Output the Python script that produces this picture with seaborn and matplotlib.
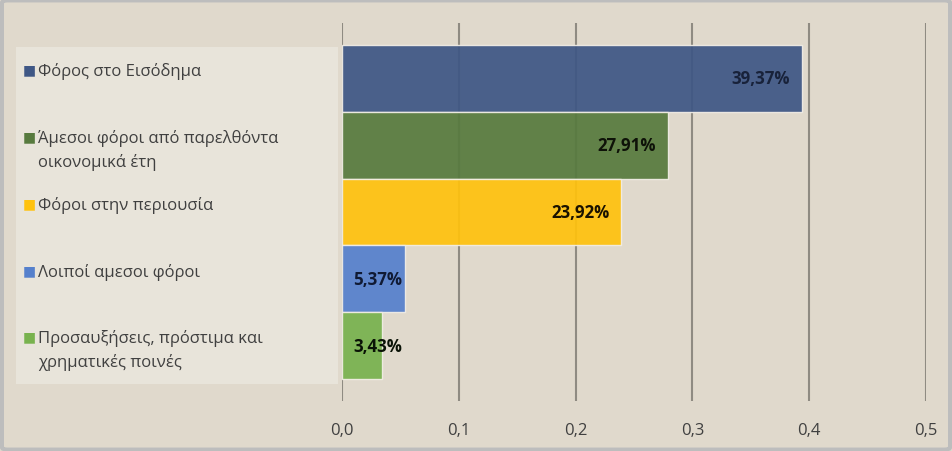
import matplotlib
matplotlib.use("Agg")
import matplotlib.pyplot as plt
import matplotlib.patches as mpatches
import matplotlib.transforms as mtransforms
import seaborn as sns
import pandas as pd

# data
categories = [
    "Φόρος στο Εισόδημα",
    "Άμεσοι φόροι από παρελθόντα\nοικονομικά έτη",
    "Φόροι στην περιουσία",
    "Λοιποί αμεσοι φόροι",
    "Προσαυξήσεις, πρόστιμα και\nχρηματικές ποινές",
]
shares = [0.3937, 0.2791, 0.2392, 0.0537, 0.0343]
xticks = [0.0, 0.1, 0.2, 0.3, 0.4, 0.5]

COLORS = ["#3F5785", "#577A3E", "#FFC20E", "#5580CC", "#78B24E"]
LABEL_COLORS = ["#18223A", "#0E1208", "#1A1200", "#101A33", "#0A1206"]
BG = "#E0D9CC"
LEGEND_BG = "#E8E4DA"
GRID = "#8F8B82"
TEXT = "#404040"

sns.set_theme(style="white")
plt.rcParams["font.family"] = ["Open Sans", "DejaVu Sans"]

df = pd.DataFrame({"cat": categories, "share": shares})

fig = plt.figure(figsize=(9.52, 4.52), dpi=100, facecolor=BG)

# legend box on the left (behind everything)
fig.patches.append(mpatches.Rectangle((16 / 952, 1 - 385 / 452), 322 / 952, 337 / 452,
                                      transform=fig.transFigure, facecolor=LEGEND_BG,
                                      edgecolor="none", zorder=-5))

ax = fig.add_axes([342 / 952, 50 / 452, 584 / 952, 378 / 452])
ax.set_facecolor("none")
ax.set_zorder(2)

# vertical gridlines first, bars on top with slight transparency
for t in xticks:
    ax.axvline(t, color=GRID, linewidth=1.5, zorder=0)

y = list(range(len(shares)))
ax.barh(y, df["share"], height=1.0, color=COLORS, alpha=0.93,
        edgecolor="#F2EEE6", linewidth=1.0, zorder=2)

ax.set_xlim(0, 0.5)
ax.set_ylim(len(shares) - 0.5 + 0.33, -0.5 - 0.33)
ax.set_yticks([])
ax.set_xticks(xticks)
ax.set_xticklabels([f"{t:.1f}".replace(".", ",") for t in xticks],
                   fontsize=12, color=TEXT)
ax.tick_params(axis="x", length=0, pad=15)
for s in ax.spines.values():
    s.set_visible(False)

# value labels: inside end, or from bar start when bar is too short
for i, v in enumerate(shares):
    txt = f"{v * 100:.2f}%".replace(".", ",")
    if v > 0.1:
        ax.annotate(txt, (v, i), xytext=(-8.6, 0), textcoords="offset points",
                    ha="right", va="center", fontsize=12.2, fontweight="bold",
                    color=LABEL_COLORS[i], zorder=3)
    else:
        ax.annotate(txt, (0, i), xytext=(7.9, 0), textcoords="offset points",
                    ha="left", va="center", fontsize=12.2, fontweight="bold",
                    color=LABEL_COLORS[i], zorder=3)

trans = mtransforms.blended_transform_factory(fig.transFigure, ax.transData)
for i, (name, c) in enumerate(zip(categories, COLORS)):
    for k, line in enumerate(name.split("\n")):
        ax.annotate(line, (38 / 952, i), xycoords=trans,
                    xytext=(0, 5.5 - 17.3 * k), textcoords="offset points",
                    ha="left", va="center", fontsize=12, color=TEXT,
                    annotation_clip=False)
    ax.annotate("\u25A0", (22.5 / 952, i), xycoords=trans,
                xytext=(0, 6), textcoords="offset points",
                ha="left", va="center", fontsize=10, color=c,
                annotation_clip=False)

# outer border
fig.patches.append(mpatches.FancyBboxPatch((0.002, 0.003), 0.996, 0.994,
                                           boxstyle="round,pad=0,rounding_size=0.006",
                                           transform=fig.transFigure, facecolor="none",
                                           edgecolor="#BDBDBD", linewidth=3))

fig.savefig("out.png", dpi=100, facecolor=BG)
